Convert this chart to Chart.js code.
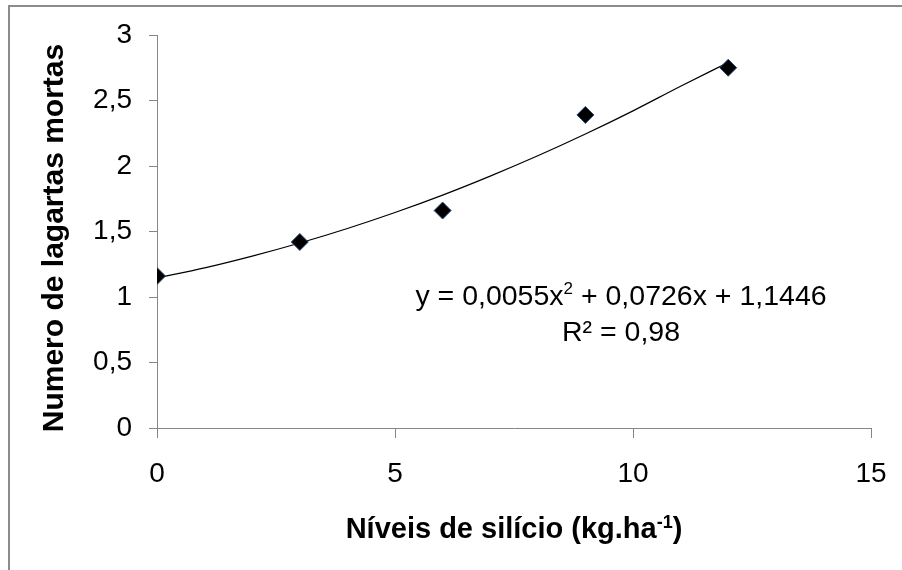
<!DOCTYPE html>
<html>
<head>
<meta charset="utf-8">
<script src="https://cdn.jsdelivr.net/npm/chart.js@4.4.1/dist/chart.umd.min.js"></script>
<style>
  html, body { margin: 0; padding: 0; background: #fff; }
  #wrap { width: 902px; height: 570px; }
</style>
</head>
<body>
<div id="wrap"><canvas id="chart" width="902" height="570"></canvas></div>
<script>
// dados
const niveis = [0, 3, 6, 9, 12];
const lagartasMortas = [1.16, 1.42, 1.66, 2.39, 2.75];

// linha de tendência (polinomial)
const tendX = [0, 1, 2, 3, 4, 5, 6, 7, 8, 9, 10, 11, 12];
const tendY = [1.145, 1.222, 1.312, 1.412, 1.523, 1.645, 1.778, 1.923, 2.078, 2.244, 2.421, 2.609, 2.79];

const xTicks = [0, 5, 10, 15];
const yTicks = [0, 0.5, 1, 1.5, 2, 2.5, 3];

const axisColor = '#868686';
const font = 'Liberation Sans, Arial, sans-serif';

function virgula(v) {
  return String(v).replace('.', ',');
}

const textos = {
  id: 'textos',
  beforeDraw(chart) {
    const ctx = chart.ctx;
    ctx.save();
    ctx.fillStyle = '#fff';
    ctx.fillRect(0, 0, chart.width, chart.height);
    // moldura
    ctx.strokeStyle = '#8c8c8c';
    ctx.lineWidth = 2;
    ctx.beginPath();
    ctx.moveTo(9, chart.height);
    ctx.lineTo(9, 6);
    ctx.lineTo(chart.width, 6);
    ctx.stroke();
    ctx.restore();
  },
  afterDraw(chart) {
    const ctx = chart.ctx;
    ctx.save();
    ctx.fillStyle = '#000';

    // titulo eixo y
    ctx.save();
    ctx.translate(55, 238);
    ctx.rotate(-Math.PI / 2);
    ctx.font = 'bold 30px ' + font;
    ctx.textAlign = 'center';
    ctx.textBaseline = 'middle';
    ctx.fillText('Numero de lagartas mortas', 0, 0);
    ctx.restore();

    // titulo eixo x com sobrescrito
    ctx.textBaseline = 'alphabetic';
    ctx.textAlign = 'left';
    let big = 'bold 29px ' + font, small = 'bold 18px ' + font;
    ctx.font = big;
    let a = 'Níveis de silício (kg.ha', c = ')';
    let wa = ctx.measureText(a).width, wc = ctx.measureText(c).width;
    ctx.font = small;
    let wb = ctx.measureText('-1').width;
    let x0 = 514 - (wa + wb + wc) / 2;
    let yb = 538;
    ctx.font = big;
    ctx.fillText(a, x0, yb);
    ctx.font = small;
    ctx.fillText('-1', x0 + wa, yb - 10);
    ctx.font = big;
    ctx.fillText(c, x0 + wa + wb, yb);

    // equação
    const eqFont = '28.5px ' + font, supFont = '17px ' + font;
    const partes = [['y = 0,0055x', eqFont, 0], ['2', supFont, -11], [' + 0,0726x + 1,1446', eqFont, 0]];
    let tot = 0;
    partes.forEach(p => { ctx.font = p[1]; tot += ctx.measureText(p[0]).width; });
    let cx = 621, x = cx - tot / 2;
    partes.forEach(p => {
      ctx.font = p[1];
      ctx.fillText(p[0], x, 305 + p[2]);
      x += ctx.measureText(p[0]).width;
    });
    ctx.font = eqFont;
    ctx.textAlign = 'center';
    ctx.fillText('R² = 0,98', cx, 341);
    ctx.restore();
  }
};

new Chart(document.getElementById('chart'), {
  type: 'scatter',
  data: {
    datasets: [
      {
        label: 'pontos',
        data: niveis.map((x, i) => ({ x: x, y: lagartasMortas[i] })),
        pointStyle: 'rectRot',
        pointRadius: 8.5,
        pointHoverRadius: 8.5,
        backgroundColor: '#000',
        borderColor: '#2a4a7a',
        borderWidth: 1,
        order: 0
      },
      {
        label: 'tendência',
        data: tendX.map((x, i) => ({ x: x, y: tendY[i] })),
        showLine: true,
        pointRadius: 0,
        borderColor: '#000',
        borderWidth: 1.2,
        tension: 0.4,
        cubicInterpolationMode: 'monotone',
        fill: false,
        order: 1
      }
    ]
  },
  options: {
    responsive: false,
    animation: false,
    events: [],
    layout: { padding: { left: 9, right: 31, top: 35, bottom: 0 } },
    plugins: {
      legend: { display: false },
      tooltip: { enabled: false }
    },
    scales: {
      x: {
        type: 'linear',
        min: 0,
        max: 15,
        afterBuildTicks: s => { s.ticks = xTicks.map(v => ({ value: v })); },
        afterFit: s => { s.height = 142; s.paddingLeft = 0; s.paddingRight = 0; },
        grid: { drawOnChartArea: false, drawTicks: true, tickLength: 10, color: axisColor },
        border: { color: axisColor, width: 1 },
        ticks: {
          color: '#000',
          padding: 19,
          font: { family: font, size: 28 },
          callback: v => virgula(v)
        }
      },
      y: {
        type: 'linear',
        min: 0,
        max: 3,
        afterBuildTicks: s => { s.ticks = yTicks.map(v => ({ value: v })); },
        afterFit: s => { s.width = 148; },
        grid: { drawOnChartArea: false, drawTicks: true, tickLength: 8, color: axisColor },
        border: { color: axisColor, width: 1 },
        ticks: {
          color: '#000',
          padding: 17,
          font: { family: font, size: 28 },
          callback: v => virgula(v)
        }
      }
    }
  },
  plugins: [textos]
});
</script>
</body>
</html>
